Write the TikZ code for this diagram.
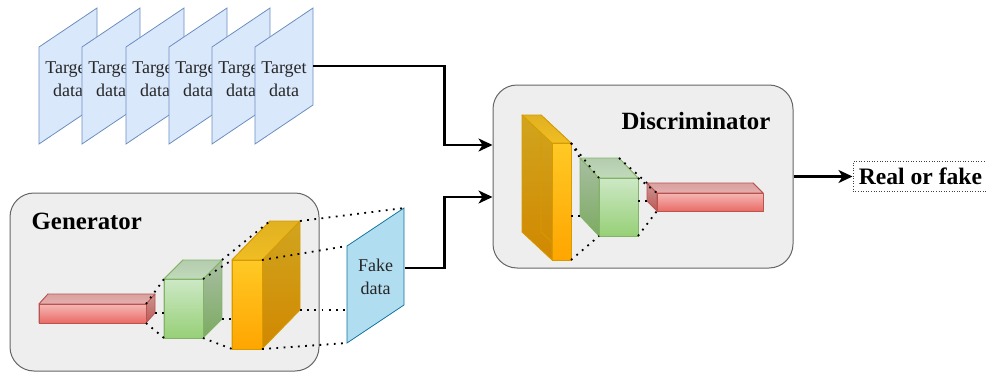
\documentclass[tikz,border=0pt]{standalone}
\usepackage{fontspec}
\setmainfont{Liberation Serif}
\usetikzlibrary{arrows.meta, positioning, calc}
\definecolor{sheet_fill}{HTML}{DAE8FC}
\definecolor{sheet_line}{HTML}{6C8EBF}
\definecolor{fake_fill}{HTML}{B1DDF0}
\definecolor{fake_line}{HTML}{10739E}
\definecolor{panel_fill}{HTML}{EEEEEE}
\definecolor{panel_line}{HTML}{666666}
\definecolor{red_top}{HTML}{F5B8B6}
\definecolor{red_bot}{HTML}{EA6B66}
\definecolor{red_line}{HTML}{B85450}
\definecolor{green_top}{HTML}{CDE8C6}
\definecolor{green_bot}{HTML}{97D077}
\definecolor{green_line}{HTML}{82B366}
\definecolor{orange_top}{HTML}{FFC925}
\definecolor{orange_bot}{HTML}{FFA500}
\definecolor{orange_line}{HTML}{D79B00}
\tikzset{
    sheet/.style={
        draw=sheet_line,
        fill=sheet_fill,
        line width=0.8pt
    },
    fake_sheet/.style={
        draw=fake_line,
        fill=fake_fill,
        line width=0.8pt
    },
    sheet_label/.style={
        minimum width=58pt,
        inner sep=0pt,
        align=center,
        text=black!85,
        font=\rmfamily\fontsize{18}{23}\selectfont
    },
    panel/.style={
        draw=panel_line,
        fill=panel_fill,
        line width=1pt,
        rounded corners=24pt
    },
    panel_title/.style={
        inner sep=0pt,
        font=\rmfamily\fontsize{24.8}{28}\selectfont\bfseries
    },
    result_box/.style={
        draw=black!75,
        dotted,
        line width=0.6pt,
        inner xsep=6pt,
        minimum height=30pt,
        font=\rmfamily\fontsize{23.6}{27}\selectfont\bfseries
    },
    face/.style={
        draw=#1_line,
        line width=0.8pt,
        line join=round
    },
    flow_arrow/.style={
        -{Stealth[length=14pt,width=13pt,inset=4pt]},
        line width=2.2pt
    },
    link/.style={
        line width=1.8pt,
        dash pattern=on 1.8pt off 5.4pt
    }
}
% cuboid: name, x, y, width, height, depth x, depth y, colour
\newcommand{\cuboid}[8]{%
    \coordinate (#1-ftl) at (#2,#3);
    \coordinate (#1-ftr) at ({#2+#4},#3);
    \coordinate (#1-fbl) at (#2,{#3+#5});
    \coordinate (#1-fbr) at ({#2+#4},{#3+#5});
    \coordinate (#1-btl) at ({#2+(#6)},{#3+(#7)});
    \coordinate (#1-btr) at ({#2+#4+(#6)},{#3+(#7)});
    \coordinate (#1-bbl) at ({#2+(#6)},{#3+#5+(#7)});
    \coordinate (#1-bbr) at ({#2+#4+(#6)},{#3+#5+(#7)});
    \draw[face=#8, top color=#8_top!82!black, bottom color=#8_bot!82!black]
        (#1-ftl) -- (#1-btl) -- (#1-bbl) -- (#1-fbl) -- cycle;
    \draw[face=#8, top color=#8_top!82!black, bottom color=#8_bot!82!black]
        (#1-ftr) -- (#1-btr) -- (#1-bbr) -- (#1-fbr) -- cycle;
    \draw[face=#8, top color=#8_top!88!black, bottom color=#8_top!94!black]
        (#1-ftl) -- (#1-btl) -- (#1-btr) -- (#1-ftr) -- cycle;
    \draw[face=#8, top color=#8_top, bottom color=#8_bot]
        (#1-ftl) -- (#1-ftr) -- (#1-fbr) -- (#1-fbl) -- cycle;
}

\begin{document}
\begin{tikzpicture}[x=1pt, y=-1pt]
\useasboundingbox (0,0) rectangle (986,372);

% Panels
\node[panel, minimum width=309pt, minimum height=178pt] (gen) at (164.5,282) {};
\node[panel, minimum width=300pt, minimum height=183pt] (disc) at (643,176.5) {};
\node[panel_title, anchor=west] (gen_title) at ([xshift=22pt,yshift=-29pt]gen.north west) {Generator};
\node[panel_title, anchor=east] (disc_title) at ([xshift=-23pt,yshift=-37pt]disc.north east) {Discriminator};

% Target data stack
\foreach \x [count=\i] in {39,82,126,169,212,255} {
    \draw[sheet] (\x,47) -- ++(58,-39) -- ++(0,97) -- ++(-58,39) -- cycle;
    \node[sheet_label] (target\i) at ({\x+29},79) {Target\\data};
}

% Generator layers
\cuboid{rG}{39}{304}{107}{19}{9}{-10}{red}
\cuboid{gG}{164}{279}{39}{59}{19}{-19}{green}
\cuboid{oG}{232}{260}{30}{89}{38}{-39}{orange}

% Fake data
\coordinate (fake-tl) at (347,246);
\coordinate (fake-tr) at (404,208);
\coordinate (fake-br) at (404,305);
\coordinate (fake-bl) at (347,343);
\draw[fake_sheet] (fake-tl) -- (fake-tr) -- (fake-br) -- (fake-bl) -- cycle;
\node[sheet_label] (fake) at (375.5,277) {Fake\\data};

% Discriminator layers
\cuboid{oD}{552}{143}{19}{117}{-30}{-28}{orange}
\cuboid{gD}{599}{178}{39}{58}{-19}{-20}{green}
\cuboid{rD}{657}{193}{106}{18}{-10}{-10}{red}

% Projection lines
\draw[link] (rG-ftr) -- (gG-ftl);
\draw[link] (rG-bbr) -- (gG-ftl |- rG-bbr);
\draw[link] (rG-fbr) -- (gG-fbl);
\draw[link] (gG-btr) -- (oG-btl);
\draw[link] (gG-ftr) -- (oG-ftl);
\draw[link] (gG-bbr) -- (oG-ftl |- gG-bbr);
\draw[link] (gG-fbr) -- (oG-fbl);
\draw[link] (oG-btr) -- (fake-tr);
\draw[link] (oG-ftr) -- (fake-tl);
\draw[link] (oG-bbr) -- (fake-tl |- oG-bbr);
\draw[link] (oG-fbr) -- (fake-bl);
\draw[link] (oD-ftr) -- (gD-btl);
\draw[link] (oD-ftr) -- (gD-ftl);
\draw[link] (oD-ftr |- gD-bbl) -- (gD-bbl);
\draw[link] (oD-fbr) -- (gD-fbl);
\draw[link] (gD-btr) -- (rD-btl);
\draw[link] (gD-ftr) -- (rD-ftl);
\draw[link] (gD-ftr |- rD-bbl) -- (rD-bbl);
\draw[link] (gD-fbr) -- (rD-fbl);

% Output
\node[result_box, right=59pt of disc] (result) {Real or fake};

% Data flow
\draw[flow_arrow] ([yshift=13pt]target6.east) -| ([xshift=-48pt,yshift=31.5pt]disc.west) -- ([yshift=31.5pt]disc.west);
\draw[flow_arrow] ([yshift=9pt]fake.east) -| ([xshift=-48pt,yshift=-20.5pt]disc.west) -- ([yshift=-20.5pt]disc.west);
\draw[flow_arrow] (disc.east |- result.west) -- (result.west);

\end{tikzpicture}
\end{document}
